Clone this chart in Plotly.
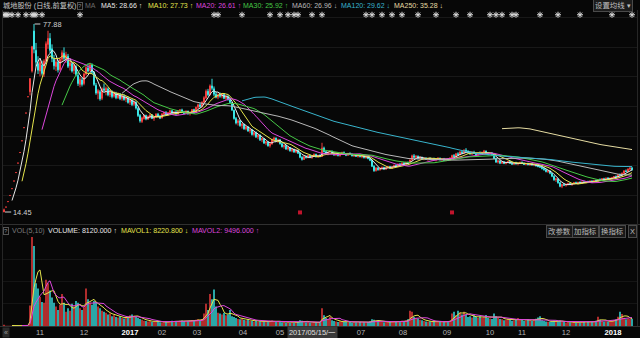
import numpy as np
import pandas as pd
import plotly.graph_objects as go

# ---------------- data (daily, forward-adjusted) ----------------
open_ = [
14.45,16.11,17.96,20.03,22.33,24.90,27.76,30.95,34.51,38.48,
42.91,47.84,53.34,55.0,62.0,75.5,69.0,64.5,62.0,64.0,
61.0,65.5,71.0,73.0,69.5,66.0,63.5,65.0,62.5,66.0,
68.0,66.0,67.0,63.8,64.5,62.2,63.5,60.5,57.5,59.0,
57.8,61.0,63.0,62.2,64.0,61.5,57.2,54.5,55.0,52.8,
56.0,55.4,56.0,54.0,55.0,53.5,54.5,53.0,54.2,52.8,
53.5,52.5,53.0,51.5,52.2,50.8,51.5,49.4,47.0,45.0,
46.0,47.0,45.8,46.6,47.2,46.0,46.5,47.4,46.8,46.2,
47.5,48.0,47.3,48.0,48.6,47.8,48.2,47.5,48.5,48.9,
48.1,47.7,48.4,47.6,48.0,49.0,48.0,49.8,50.6,50.0,
51.5,53.0,55.2,54.0,57.0,56.0,54.2,53.2,54.0,53.5,
54.2,52.8,53.4,52.4,51.3,48.8,46.0,44.6,45.2,43.6,
44.0,42.5,43.2,41.8,42.2,40.6,41.3,39.8,40.4,38.8,
39.2,37.7,38.1,36.8,37.4,38.9,39.4,38.3,38.8,37.5,
36.5,36.9,35.7,36.2,35.1,35.6,34.7,35.3,34.3,32.9,
32.2,33.1,32.8,33.5,32.9,33.3,33.9,33.1,33.5,33.2,
36.0,34.8,34.3,34.6,35.0,34.2,33.7,34.1,33.5,33.9,
34.5,34.0,33.6,34.2,33.9,33.4,33.8,33.2,33.6,33.1,
33.3,32.8,33.1,32.5,31.9,29.9,28.4,29.3,28.7,29.2,
29.5,28.9,29.4,29.8,29.2,29.7,30.2,29.9,30.6,30.4,
31.0,30.6,31.2,30.9,32.0,33.4,32.9,33.3,32.5,32.9,
32.3,32.6,32.2,32.5,32.1,32.4,32.0,32.3,32.6,32.1,
32.4,31.9,32.3,32.0,32.7,33.5,33.2,34.1,33.8,34.7,
34.4,35.3,34.9,34.5,34.0,34.6,34.2,33.7,34.3,34.1,
34.6,35.0,34.3,33.9,34.4,33.8,32.5,31.3,31.7,30.9,
31.4,30.8,31.2,31.5,30.9,30.6,31.0,30.7,30.9,31.2,
30.8,30.5,30.8,30.4,30.7,30.3,30.5,30.0,29.8,29.6,
29.1,28.7,28.1,28.3,27.5,26.5,25.3,25.6,24.3,23.1,
23.7,23.5,23.8,24.1,23.7,24.0,24.4,24.1,24.5,24.2,
24.6,24.4,24.7,24.5,24.9,24.6,25.1,24.9,25.4,25.2,
25.7,25.4,25.9,25.6,25.8,26.0,26.4,26.2,27.0,26.9,
27.5,28.3,28.1,28.9,29.3]

high = [
15.60,16.11,17.96,20.03,22.33,24.90,27.76,30.95,34.51,38.48,
42.91,47.84,53.34,59.47,70.5,77.88,71.5,67.0,65.8,65.5,
66.0,72.0,75.6,74.8,71.0,67.5,66.0,65.8,66.5,69.0,
70.0,68.5,67.8,65.5,65.0,64.6,64.0,61.5,60.0,59.8,
61.5,64.0,64.5,64.8,64.6,62.0,58.0,56.0,55.6,56.5,
57.8,56.8,56.5,55.8,55.5,55.2,55.0,54.8,54.6,54.0,
54.2,53.5,53.4,52.8,52.6,52.0,51.8,49.8,47.5,46.6,
47.5,47.3,47.0,47.6,47.5,46.8,47.8,47.9,47.2,47.8,
48.4,48.5,48.2,49.0,48.9,48.5,48.6,48.8,49.2,49.3,
48.6,48.8,48.7,48.3,49.2,49.3,50.0,51.0,51.2,51.8,
53.5,55.8,56.0,57.5,59.4,56.8,55.0,54.5,54.8,54.6,
54.6,53.8,53.9,53.0,51.6,49.0,46.5,45.8,45.6,44.5,
44.3,43.6,43.5,42.6,42.5,41.8,41.6,40.8,40.6,39.6,
39.4,38.5,38.3,37.8,39.2,39.8,39.6,39.2,39.0,37.8,
37.2,37.1,36.6,36.4,35.9,35.8,35.6,35.5,34.6,33.3,
33.4,33.6,33.8,33.8,33.6,34.2,34.1,33.8,34.0,37.8,
36.5,35.2,34.9,35.3,35.2,34.6,34.4,34.5,34.2,34.8,
34.9,34.3,34.4,34.6,34.3,34.1,34.0,33.9,33.8,33.6,
33.5,33.4,33.3,32.8,32.1,30.2,29.6,29.6,29.5,29.8,
29.7,29.6,30.0,30.0,29.9,30.4,30.5,30.8,31.0,31.2,
31.3,31.4,31.5,32.2,33.8,34.0,33.6,33.5,33.2,33.1,
32.9,33.0,32.8,32.9,32.6,32.8,32.5,32.9,32.8,32.6,
32.7,32.5,32.6,32.9,33.8,34.0,34.4,34.6,35.0,35.2,
35.6,36.0,35.3,35.0,34.8,35.1,34.5,34.5,34.9,34.8,
35.4,35.2,34.7,34.6,34.6,34.0,32.8,32.0,31.9,31.6,
31.6,31.4,31.7,31.7,31.3,31.2,31.4,31.1,31.4,31.5,
31.2,31.0,31.1,30.9,31.0,30.8,30.7,30.4,30.2,29.8,
29.5,29.0,28.6,28.5,27.7,26.8,25.9,25.8,24.6,24.0,
24.2,24.0,24.3,24.4,24.2,24.6,24.7,24.6,24.8,24.7,
25.0,24.9,25.0,25.1,25.2,25.3,25.4,25.6,25.8,25.9,
26.0,26.1,26.2,26.1,26.3,26.6,26.8,27.2,27.4,27.8,
28.6,28.8,29.2,29.6,29.7]

low = [
14.45,16.11,17.96,20.03,22.33,24.90,27.76,30.95,34.51,38.48,
42.91,47.84,53.34,53.8,61.5,68.0,63.5,61.0,60.2,60.5,
60.0,64.8,69.5,68.0,65.0,62.5,62.0,61.5,62.0,65.0,
65.5,64.8,63.0,62.2,61.5,61.0,60.2,57.0,56.5,56.8,
57.2,60.5,61.5,61.8,61.0,57.0,54.0,52.5,52.0,52.2,
55.0,53.8,53.5,53.2,52.8,53.0,52.5,52.6,52.2,52.0,
52.0,51.5,51.0,50.6,50.2,50.2,49.0,46.5,44.6,44.5,
45.6,45.4,45.5,46.0,45.8,45.2,46.2,46.4,45.8,46.0,
47.0,47.0,46.9,47.6,47.5,47.2,47.2,47.3,48.0,47.8,
47.4,47.5,47.3,47.0,47.8,47.6,47.8,49.2,49.6,49.8,
51.2,52.6,53.5,53.8,55.5,53.5,52.8,52.5,53.0,52.8,
52.5,52.2,52.0,51.0,48.5,45.6,44.0,43.6,43.2,42.6,
42.2,42.0,41.5,41.0,40.2,40.0,39.4,39.0,38.4,38.0,
37.4,37.0,36.5,36.2,37.2,38.2,38.0,37.8,37.2,36.2,
35.8,35.4,35.2,34.8,34.6,34.4,34.3,34.0,32.6,31.8,
32.0,32.5,32.6,32.6,32.4,33.0,32.8,32.7,32.9,33.0,
34.5,34.0,33.6,34.2,34.0,33.4,33.3,33.2,33.1,33.7,
33.8,33.3,33.4,33.6,33.2,33.0,33.0,32.8,32.9,32.6,
32.5,32.4,32.2,31.6,29.6,28.0,28.1,28.4,28.4,28.9,
28.6,28.7,29.1,29.0,29.0,29.5,29.6,29.8,30.1,30.2,
30.3,30.4,30.6,30.8,31.8,32.6,32.4,32.2,32.1,32.0,
31.9,32.0,31.7,31.9,31.6,31.8,31.5,32.0,31.8,31.6,
31.7,31.6,31.7,31.9,32.5,33.0,33.0,33.4,33.6,34.0,
34.2,34.6,34.2,33.8,33.7,34.0,33.4,33.5,33.8,33.9,
34.3,34.0,33.6,33.7,33.5,32.2,31.0,30.8,30.6,30.7,
30.6,30.5,30.9,30.7,30.4,30.3,30.5,30.2,30.6,30.6,
30.3,30.2,30.2,30.0,30.1,29.9,29.8,29.5,29.3,28.8,
28.4,27.8,27.6,27.2,26.2,25.0,24.6,24.0,22.8,22.5,
23.2,23.0,23.4,23.5,23.3,23.8,23.9,23.8,24.0,23.9,
24.2,24.1,24.2,24.3,24.4,24.5,24.7,24.8,25.0,25.1,
25.2,25.3,25.4,25.4,25.5,25.8,26.0,26.1,26.6,26.8,
27.3,27.9,28.0,28.6,28.4]

close = [
15.20,16.11,17.96,20.03,22.33,24.90,27.76,30.95,34.51,38.48,
42.91,47.84,53.34,59.47,70.2,69.4,65.0,62.3,64.9,61.2,
65.4,71.2,73.0,69.0,66.2,63.8,65.1,62.4,66.0,68.2,
66.3,67.5,63.6,64.8,62.0,63.9,60.8,57.8,59.2,57.5,
61.0,63.2,62.0,64.1,61.6,57.5,54.6,55.4,52.6,56.0,
55.5,56.2,54.0,55.2,53.4,54.6,53.0,54.3,52.7,53.6,
52.4,53.0,51.4,52.3,50.7,51.6,49.5,47.0,45.2,46.2,
47.0,45.8,46.7,47.2,46.0,46.5,47.4,46.8,46.1,47.5,
48.0,47.3,48.0,48.6,47.8,48.2,47.5,48.5,48.9,48.1,
47.7,48.4,47.6,48.0,49.0,47.9,49.8,50.6,50.0,51.5,
53.0,55.2,54.0,57.0,56.2,54.2,53.2,54.0,53.5,54.2,
52.8,53.4,52.4,51.4,48.9,46.0,44.5,45.2,43.6,44.0,
42.5,43.2,41.8,42.2,40.6,41.3,39.8,40.4,38.8,39.2,
37.7,38.1,36.8,37.4,38.9,39.4,38.3,38.8,37.5,36.5,
36.9,35.7,36.2,35.1,35.6,34.7,35.3,34.3,32.9,32.2,
33.1,32.8,33.5,32.9,33.3,33.9,33.1,33.5,33.2,36.0,
34.8,34.3,34.6,35.0,34.2,33.7,34.1,33.5,33.9,34.5,
34.0,33.6,34.2,33.9,33.4,33.8,33.2,33.6,33.1,33.3,
32.8,33.1,32.5,31.9,29.9,28.4,29.3,28.7,29.2,29.5,
28.9,29.4,29.8,29.2,29.7,30.2,29.9,30.6,30.4,31.0,
30.6,31.2,30.9,32.0,33.4,32.9,33.3,32.5,32.9,32.3,
32.6,32.2,32.5,32.1,32.4,32.0,32.3,32.6,32.1,32.4,
31.9,32.3,32.0,32.7,33.5,33.2,34.1,33.8,34.7,34.4,
35.3,34.9,34.5,34.0,34.6,34.2,33.7,34.3,34.1,34.6,
35.0,34.3,33.9,34.4,33.8,32.5,31.3,31.7,30.9,31.4,
30.8,31.2,31.5,30.9,30.6,31.0,30.7,30.9,31.2,30.8,
30.5,30.8,30.4,30.7,30.3,30.5,30.0,29.8,29.6,29.1,
28.7,28.1,28.3,27.5,26.5,25.3,25.6,24.3,23.1,23.7,
23.5,23.8,24.1,23.7,24.0,24.4,24.1,24.5,24.2,24.6,
24.4,24.7,24.5,24.9,24.6,25.1,24.9,25.4,25.2,25.7,
25.4,25.9,25.6,25.8,26.0,26.4,26.2,27.0,26.9,27.5,
28.3,28.1,28.9,29.3,28.7]

volume = [
1500,400,350,300,320,380,420,450,500,560,
600,700,900,23000,102000,90000,48000,42000,33000,27000,
26000,52000,48000,40000,32000,26000,22000,18000,24000,36000,
26000,16000,20000,17000,25000,22000,28000,26000,20000,18000,
21000,42000,30000,26000,24000,28000,27000,22000,20000,17000,
16000,15000,13000,14000,11000,12000,10000,9500,11000,9000,
8500,10000,9000,12000,13000,11500,10500,9000,8000,7000,
6000,5500,5000,6200,4800,5200,4500,5000,4200,3800,
4500,5200,4800,5500,6000,5200,4600,5000,5800,6200,
5500,4800,5200,6000,6800,5800,7000,7500,6500,8000,
14000,25000,18000,36000,30000,41000,22000,15000,14000,13000,
15000,12000,13000,18000,11000,10000,9000,8000,7500,8500,
7000,6500,7200,6000,5500,5000,6200,4800,5400,4600,
5000,4400,4800,5800,6200,5600,4800,5200,4600,4200,
4800,4000,4500,3800,4200,4000,4600,4400,6500,5800,
4800,4200,4600,4000,3800,4400,4200,4000,4600,20000,
12000,9000,8000,10500,6500,5500,5000,4600,5200,5000,
4500,4800,4200,4600,4000,4400,4200,4000,4500,3800,
4200,4000,4600,5200,7500,7000,6000,5200,4600,4800,
4200,4600,5000,4400,4800,5200,4600,5500,5000,5800,
5200,6000,7500,17000,16000,10000,9000,8500,7000,6500,
5500,5000,4800,5200,4600,5000,4400,4800,5200,4600,
5000,4800,5600,6000,14000,16000,12000,17000,15000,13000,
16000,13000,10000,11000,9500,12000,10000,9000,11000,9500,
10500,12500,9000,8500,8000,14000,11000,9000,8000,7500,
6500,7000,8500,7500,6000,6500,7000,9000,8000,7000,
6000,6500,7500,6800,6000,7200,8200,9500,11000,6500,
5500,5000,4800,4600,5200,6000,5600,5200,6200,5000,
4400,4000,4600,4200,3800,4400,4000,4600,4200,4800,
4400,4200,5000,4600,4800,5400,6000,10500,7000,5500,
5000,5400,4800,5600,6200,6800,7200,10500,16000,13356,
9200,7600,8400,7784,8120]

# month tick labels (positions in trading-day index)
tick_days = [18, 40, 63, 79, 96.5, 119.5, 138, 178.5, 199.5, 221.5, 243, 259, 281, 304.5]
tick_text = ["11", "12", "<b><span style='color:#ffffff'>2017</span></b>", "02", "03", "04", "05",
             "07", "08", "09", "10", "11", "12", "<b><span style='color:#ffffff'>2018</span></b>"]

# news/event star days and signal marker days
star_days = [0, 1, 2, 4, 7, 11, 14, 15, 16, 19, 38, 105, 107, 119, 133, 138, 142, 145, 147, 154,
             159, 181, 184, 189, 194, 199, 207, 216, 226, 233, 243, 246, 249, 254, 256, 268, 277,
             288, 304, 314]
signal_days = [148, 224]

ma_windows = [5, 10, 20, 30, 60, 120, 250]
ma_values_text = ["28.66", "27.73", "26.61", "25.92", "26.96", "29.62", "35.28"]
ma_arrows = ["↑", "↑", "↑", "↑", "↓", "↓", "↓"]
vol_ma_windows = [5, 10]

# ---------------- style ----------------
BG = "#070707"
UP = "#f23d3d"
DN = "#3ae6e6"
MA_COLORS = ["#e8e8e8", "#e4e44c", "#dc46dc", "#46c846", "#b8b8b8", "#38b4cc", "#e6dca2"]
VMA_COLORS = ["#e4e44c", "#dc46dc"]
FONT = "Liberation Sans, Arial, Noto Sans CJK SC, sans-serif"

W, H = 640, 338
def px(x):
    return x / W
def py(y):
    return 1 - y / H

n = len(close)
idx = list(range(n))
s_close = pd.Series(close)
s_vol = pd.Series(volume)

fig = go.Figure()

fig.add_trace(go.Candlestick(
    x=idx, open=open_, high=high, low=low, close=close,
    increasing=dict(line=dict(color=UP, width=1), fillcolor=UP),
    decreasing=dict(line=dict(color=DN, width=1), fillcolor=DN),
    whiskerwidth=0, xaxis="x", yaxis="y", showlegend=False, hoverinfo="skip"))

for w, col in zip(ma_windows, MA_COLORS):
    ma = s_close.rolling(w, min_periods=w).mean()
    fig.add_trace(go.Scatter(x=idx, y=[None if np.isnan(v) else v for v in ma],
                             mode="lines", line=dict(color=col, width=1),
                             xaxis="x", yaxis="y", showlegend=False, hoverinfo="skip"))

# star markers in the top row of the price panel
star_y = 81.0
fig.add_trace(go.Scatter(x=star_days, y=[star_y] * len(star_days), mode="markers",
                         marker=dict(symbol="asterisk-open", size=5, color="#dcdcdc",
                                     line=dict(color="#dcdcdc", width=1)),
                         xaxis="x", yaxis="y", showlegend=False, hoverinfo="skip"))
# red signal markers at the bottom of the price panel
fig.add_trace(go.Scatter(x=signal_days, y=[14.3] * len(signal_days), mode="markers",
                         marker=dict(symbol="square", size=4, color="#c0142c"),
                         xaxis="x", yaxis="y", showlegend=False, hoverinfo="skip"))

# volume
vcolors = []
prev = None
for o, c in zip(open_, close):
    if c > o:
        up = True
    elif c < o:
        up = False
    else:
        up = True if prev is None else c >= prev
    vcolors.append(UP if up else DN)
    prev = c
fig.add_trace(go.Bar(x=idx, y=volume, marker=dict(color=vcolors, line=dict(width=0)), width=0.72,
                     xaxis="x2", yaxis="y2", showlegend=False, hoverinfo="skip"))
for w, col in zip(vol_ma_windows, VMA_COLORS):
    vm = s_vol.rolling(w, min_periods=w).mean()
    fig.add_trace(go.Scatter(x=idx, y=[None if np.isnan(v) else v for v in vm], mode="lines",
                             line=dict(color=col, width=1), xaxis="x2", yaxis="y2",
                             showlegend=False, hoverinfo="skip"))

# ---------------- axes ----------------
price_top_px, price_bot_px = 10, 224
vol_top_px, vol_bot_px = 237, 326
hi_max = max(high)
lo_min = min(low)
pp = (212 - 24) / (hi_max - lo_min)          # pixels per price unit
y_top = hi_max + (24 - price_top_px) / pp
y_bot = lo_min - (price_bot_px - 212) / pp

xdom = [px(3), px(637)]
fig.update_layout(
    width=W, height=H, margin=dict(l=0, r=0, t=0, b=0),
    paper_bgcolor=BG, plot_bgcolor=BG, showlegend=False,
    font=dict(family=FONT, color="#c8c8c8", size=8),
    xaxis=dict(domain=xdom, range=[-0.5, n + 1.5], anchor="y", showticklabels=False,
               showgrid=False, zeroline=False, rangeslider=dict(visible=False), fixedrange=True),
    xaxis2=dict(domain=xdom, range=[-0.5, n + 1.5], anchor="y2", matches="x",
                tickmode="array", tickvals=tick_days, ticktext=tick_text, ticks="",
                tickfont=dict(size=7.6, color="#b4b4b4", family=FONT),
                showgrid=False, zeroline=False, showline=False),
    yaxis=dict(domain=[py(price_bot_px), py(price_top_px)], range=[y_bot, y_top],
               showticklabels=False, showgrid=True, gridcolor="#181818", gridwidth=1,
               tick0=0, dtick=10, zeroline=False),
    yaxis2=dict(domain=[py(vol_bot_px), py(vol_top_px)], range=[0, 100000],
                showticklabels=False, showgrid=True, gridcolor="#151515", gridwidth=1,
                tick0=0, dtick=25000, zeroline=False),
)

shapes = []
def hline(y, col="#303030"):
    shapes.append(dict(type="line", xref="paper", yref="paper", x0=0, x1=1,
                       y0=py(y), y1=py(y), line=dict(color=col, width=1)))
def vline(x, y0, y1, col="#262626"):
    shapes.append(dict(type="line", xref="paper", yref="paper", x0=px(x), x1=px(x),
                       y0=py(y0), y1=py(y1), line=dict(color=col, width=1)))
hline(224.5)
hline(326.5)
vline(2.5, 10, 326)
vline(637.5, 10, 326)

# max / min price markers
imax = int(np.argmax(high))
imin = int(np.argmin(low))
shapes.append(dict(type="line", xref="x", yref="y", x0=imax + 0.3, x1=imax + 3.2,
                   y0=hi_max, y1=hi_max, line=dict(color="#d0d0d0", width=1)))
shapes.append(dict(type="line", xref="x", yref="y", x0=imin + 0.5, x1=imin + 3.6,
                   y0=lo_min, y1=lo_min, line=dict(color="#d0d0d0", width=1)))
fig.update_layout(shapes=shapes)

ann = []
def text(x, y, s, col, size=7.4, anchor="left", **kw):
    ann.append(dict(xref="paper", yref="paper", x=px(x), y=py(y), text=s, showarrow=False,
                    xanchor=anchor, yanchor="middle", font=dict(color=col, size=size, family=FONT),
                    **kw))

ann.append(dict(xref="x", yref="y", x=imax + 3.3, y=hi_max, text=f"{hi_max:.2f}", showarrow=False,
                xanchor="left", yanchor="middle", font=dict(color="#d0d0d0", size=7.4, family=FONT)))
ann.append(dict(xref="x", yref="y", x=imin + 3.7, y=lo_min, text=f"{lo_min:.2f}", showarrow=False,
                xanchor="left", yanchor="middle", font=dict(color="#d0d0d0", size=7.4, family=FONT)))

# header row
text(1, 5.5, "城地股份 (日线,前复权)", "#c8c8c8", size=7.2)
text(77, 5.5, "?", "#888888", size=6, bordercolor="#555555", borderwidth=1, borderpad=0)
text(83, 5.5, "MA", "#6c6c6c", size=7.0)
ma_x = [99, 146, 194, 241, 290, 339, 392]
for i, (w, col) in enumerate(zip(ma_windows, MA_COLORS)):
    text(ma_x[i], 5.5, f"MA{w}: {ma_values_text[i]} {ma_arrows[i]}", col, size=7.0)
text(613, 6, "设置均线 ▾", "#c0c0c0", anchor="center", bgcolor="#1c1c1c",
     bordercolor="#4a4a4a", borderwidth=1, borderpad=1)

# volume header row
text(2.5, 231, "?", "#888888", size=6, bordercolor="#555555", borderwidth=1, borderpad=0)
text(10, 231, "VOL(5,10)", "#7a7a7a", size=7.1)
text(46, 231, "VOLUME: 8120.000 ↑", "#e6e6e6", size=7.1)
text(119, 231, "MAVOL1: 8220.800 ↓", VMA_COLORS[0], size=7.1)
text(190, 231, "MAVOL2: 9496.000 ↑", VMA_COLORS[1], size=7.1)
for cx, s in [(559, "改参数"), (585.5, "加指标"), (612, "换指标"), (632, "X")]:
    text(cx, 231.5, s, "#bdbdbd", anchor="center", bgcolor="#181818",
         bordercolor="#4a4a4a", borderwidth=1, borderpad=1)

# bottom row widgets
text(5.5, 332, "«", "#9a9a9a", size=7, anchor="center", bgcolor="#2a2a2a", borderpad=1)
text(312, 332, "2017/05/15/一", "#e0e0e0", size=7.4, anchor="center", bgcolor="#3a3a3a", borderpad=1)

fig.update_layout(annotations=ann)

fig.write_html("out.html", config={"displayModeBar": False, "staticPlot": True})
